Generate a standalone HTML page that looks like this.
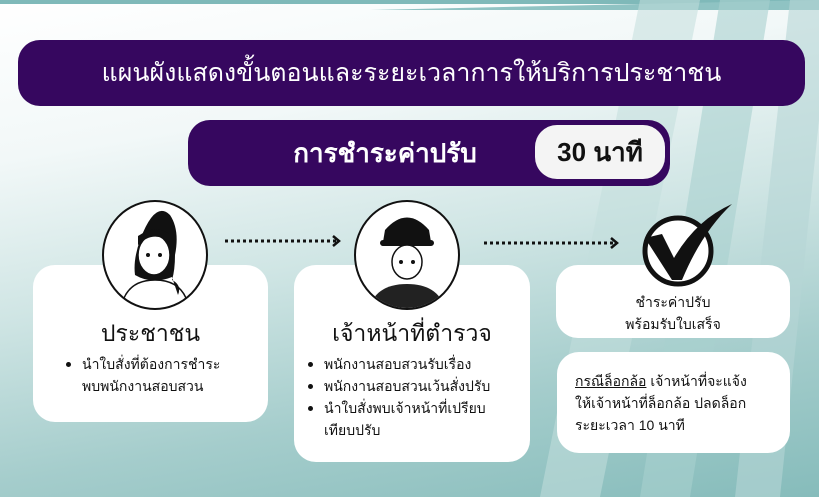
<!DOCTYPE html>
<html><head><meta charset="utf-8"><style>
*{margin:0;padding:0;box-sizing:border-box}
body{width:819px;height:497px;overflow:hidden;position:relative;font-family:"Liberation Sans","Noto Sans CJK SC",sans-serif;background:linear-gradient(170deg,#ffffff 0%,#f2f8f8 25%,#cfe5e4 50%,#a5cdcc 75%,#86bcbb 100%)}
.abs{position:absolute}
.bar{background:#36075f;border-radius:22px;color:#fff}
.box{background:#fff;border-radius:22px;position:absolute}
ul{list-style:none}
li{position:relative;padding-left:18px;font-size:14px;line-height:22px;color:#111}
li:before{content:"";position:absolute;left:2px;top:9px;width:5px;height:5px;border-radius:50%;background:#111}
</style></head><body>
<svg class="abs" style="left:0;top:0" width="819" height="497">
<polygon points="0,0 819,0 819,4 0,4" fill="#7fb9b9"/>
<polygon points="370,10 819,0 819,10 355,10" fill="#8fc3c3"/>
<polygon points="540,497 640,0 700,0 600,497" fill="#c2dedd" opacity=".55"/>
<polygon points="640,497 720,0 770,0 690,497" fill="#a8d0cf" opacity=".6"/>
<polygon points="735,497 790,0 819,0 819,120 780,497" fill="#b5d6d5" opacity=".6"/>
<g stroke="#111" stroke-width="3" stroke-dasharray="3 3" fill="none">
<line x1="225" y1="241" x2="336" y2="241"/>
<line x1="484" y1="243" x2="614" y2="243"/>
</g>
<g stroke="#111" stroke-width="2.5" fill="none">
<polyline points="333,236 339,241 333,246"/>
<polyline points="611,238 617,243 611,248"/>
</g>
</svg>

<div class="abs bar" style="left:18px;top:40px;width:787px;height:66px;font-size:25px;line-height:66px;text-align:center">แผนผังแสดงขั้นตอนและระยะเวลาการให้บริการประชาชน</div>
<div class="abs bar" style="left:188px;top:120px;width:482px;height:66px;"></div>
<div class="abs" style="left:250px;top:120px;width:270px;height:66px;color:#fff;font-size:26px;font-weight:bold;line-height:66px;text-align:center">การชำระค่าปรับ</div>
<div class="abs" style="left:535px;top:125px;width:130px;height:54px;background:#f4f4f4;border-radius:22px;font-size:26px;font-weight:bold;line-height:54px;text-align:center;color:#111">30 นาที</div>

<div class="box" style="left:33px;top:265px;width:235px;height:157px"></div>
<div class="box" style="left:294px;top:265px;width:236px;height:197px"></div>
<div class="box" style="left:556px;top:265px;width:234px;height:73px"></div>
<div class="box" style="left:557px;top:352px;width:233px;height:101px"></div>

<svg class="abs" style="left:0;top:0" width="819" height="497">
<defs><clipPath id="c2"><ellipse cx="407" cy="255" rx="51" ry="53"/></clipPath></defs>
<g stroke="#111" fill="#fff" stroke-width="2">
<ellipse cx="155" cy="255" rx="52" ry="54"/>
<ellipse cx="407" cy="255" rx="52" ry="54"/>
</g>
<path d="M140,240 q15,-40 30,-25 q10,15 5,40 q0,15 -3,25 q10,5 6,15 l-6,-18 q-20,8 -37,-2 q-2,-15 5,-35z" fill="#111"/>
<ellipse cx="154" cy="255" rx="16" ry="20" fill="#fff" stroke="#111" stroke-width="1.5"/>
<path d="M138,245 q15,-15 32,-3 l0,-8 q-15,-10 -32,2z" fill="#111"/>
<circle cx="148" cy="255" r="2" fill="#111"/><circle cx="160" cy="255" r="2" fill="#111"/>
<path d="M124,298 q8,-18 31,-18 q23,0 31,18" fill="none" stroke="#111" stroke-width="1.5"/>
<g clip-path="url(#c2)">
<path d="M385,230 q22,-25 44,0 l2,12 l-48,0z" fill="#111"/>
<rect x="380" y="240" width="54" height="6" rx="3" fill="#111"/>
<ellipse cx="407" cy="262" rx="15" ry="17" fill="#fff" stroke="#111" stroke-width="1.5"/>
<circle cx="401" cy="262" r="2" fill="#111"/><circle cx="413" cy="262" r="2" fill="#111"/>
<path d="M368,312 q6,-28 39,-28 q33,0 39,28z" fill="#222"/>
</g>
<circle cx="678" cy="251" r="33" fill="#fff" stroke="#111" stroke-width="5"/>
<path d="M645,238 l17,-4 l12,24 q22,-38 58,-54 q-30,28 -50,76 l-10,0z" fill="#111"/>
</svg>

<div class="abs" style="left:33px;top:316px;width:235px;text-align:center;font-size:23px;color:#111">ประชาชน</div>
<ul class="abs" style="left:64px;top:353px;width:205px"><li>นำใบสั่งที่ต้องการชำระ<br>พบพนักงานสอบสวน</li></ul>
<div class="abs" style="left:294px;top:316px;width:236px;text-align:center;font-size:23px;color:#111">เจ้าหน้าที่ตำรวจ</div>
<ul class="abs" style="left:306px;top:353px;width:224px"><li>พนักงานสอบสวนรับเรื่อง</li><li>พนักงานสอบสวนเว้นสั่งปรับ</li><li>นำใบสั่งพบเจ้าหน้าที่เปรียบ<br>เทียบปรับ</li></ul>
<div class="abs" style="left:556px;top:291px;width:234px;text-align:center;font-size:14px;line-height:22px;color:#111">ชำระค่าปรับ<br>พร้อมรับใบเสร็จ</div>
<div class="abs" style="left:575px;top:370px;width:215px;font-size:14px;line-height:22px;color:#111;white-space:nowrap"><u>กรณีล็อกล้อ</u> เจ้าหน้าที่จะแจ้ง<br>ให้เจ้าหน้าที่ล็อกล้อ ปลดล็อก<br>ระยะเวลา 10 นาที</div>
</body></html>
